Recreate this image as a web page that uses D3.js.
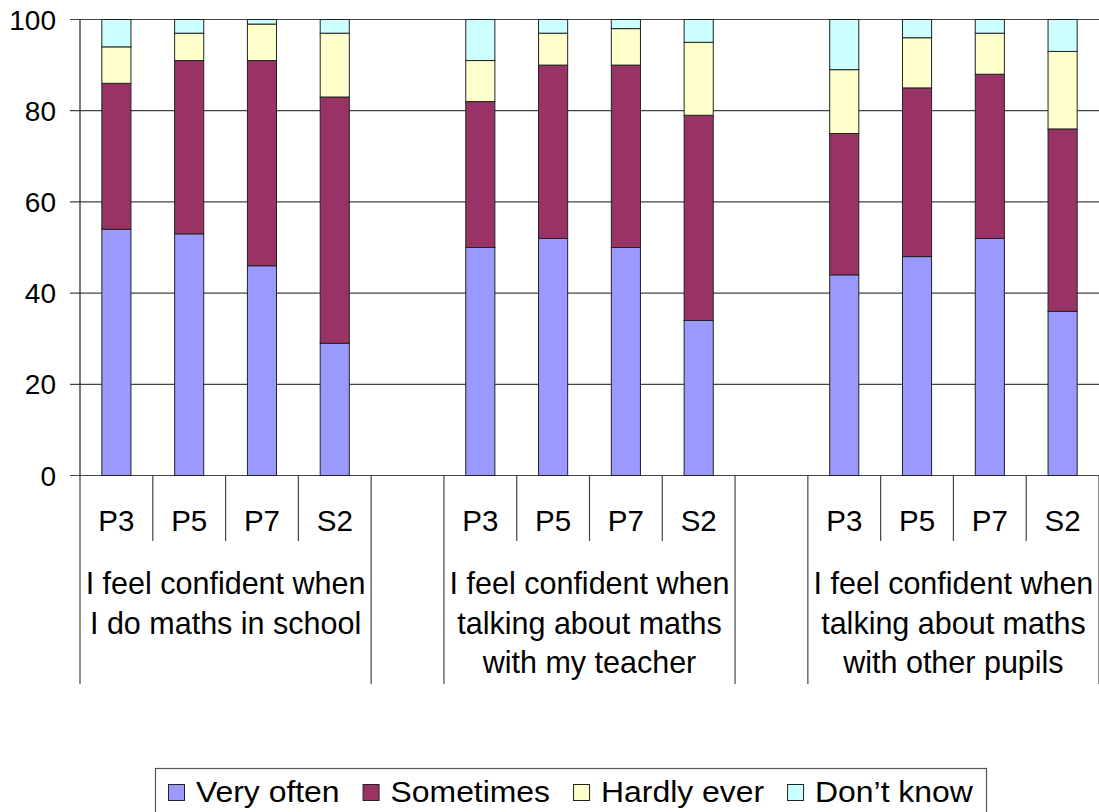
<!DOCTYPE html>
<html>
<head>
<meta charset="utf-8">
<script src="https://cdn.jsdelivr.net/npm/d3@7/dist/d3.min.js"></script>
<style>
  html, body { margin: 0; padding: 0; background: #fff; }
  svg { display: block; font-family: "Liberation Sans", Arial, Helvetica, sans-serif; }
</style>
</head>
<body>
<svg id="chart" width="1099" height="812"></svg>
<script>
// ---- data ----
const groups = [
  ["I feel confident when", "I do maths in school"],
  ["I feel confident when", "talking about maths", "with my teacher"],
  ["I feel confident when", "talking about maths", "with other pupils"]
];
const categories = ["P3", "P5", "P7", "S2"];
const seriesNames = ["Very often", "Sometimes", "Hardly ever", "Don\u2019t know"];
const veryOften  = [54, 53, 46, 29,  50, 52, 50, 34,  44, 48, 52, 36];
const sometimes  = [32, 38, 45, 54,  32, 38, 40, 45,  31, 37, 36, 40];
const hardlyEver = [ 8,  6,  8, 14,   9,  7,  8, 16,  14, 11,  9, 17];
const dontKnow   = [ 6,  3,  1,  3,   9,  3,  2,  5,  11,  4,  3,  7];
const yTicks = [0, 20, 40, 60, 80, 100];
const colors = ["#9999FF", "#993366", "#FFFFCC", "#CCFFFF"];

(function () {
// ---- layout ----
const svg = d3.select("#chart");
const plotLeft = 80, plotRight = 1099, plotTop = 19.5, plotBottom = 475.5;

// slots: 4 categories per group, one empty slot between groups
const slots = [];
groups.forEach((g, gi) => {
  categories.forEach(c => slots.push({ id: `g${gi}-${c}`, group: gi, cat: c }));
  if (gi < groups.length - 1) slots.push({ id: `gap${gi}`, group: null, cat: null });
});
const x = d3.scaleBand().domain(slots.map(s => s.id)).range([plotLeft, plotRight])
  .paddingInner(0.6).paddingOuter(0.3);
const step = x.step();
const slotLeft = id => x(id) - 0.3 * step;

const y = d3.scaleLinear().domain([0, 100]).range([plotBottom, plotTop]);

// gridlines
svg.append("g").selectAll("line").data(yTicks).join("line")
  .attr("x1", plotLeft - 10).attr("x2", plotRight)
  .attr("y1", d => y(d)).attr("y2", d => y(d))
  .attr("stroke", "#444").attr("stroke-width", 1.2);

// y tick labels
svg.append("g").selectAll("text").data(yTicks).join("text")
  .attr("x", 56).attr("y", d => y(d))
  .attr("dy", "0.36em")
  .attr("text-anchor", "end")
  .attr("font-size", 28)
  .attr("fill", "#000")
  .text(d => d);

// stacked bars
const barSlots = slots.filter(s => s.cat !== null);
const rows = barSlots.map((s, i) => ({
  id: s.id, v0: veryOften[i], v1: sometimes[i], v2: hardlyEver[i], v3: dontKnow[i]
}));
const stacked = d3.stack().keys(["v0", "v1", "v2", "v3"])(rows);
svg.append("g").selectAll("g").data(stacked).join("g")
  .attr("fill", (d, i) => colors[i])
  .selectAll("rect").data(d => d).join("rect")
  .attr("x", d => x(d.data.id))
  .attr("width", x.bandwidth())
  .attr("y", d => y(d[1]))
  .attr("height", d => y(d[0]) - y(d[1]))
  .attr("stroke", "#222").attr("stroke-width", 1);

// y axis line
svg.append("line").attr("x1", plotLeft).attr("x2", plotLeft)
  .attr("y1", plotTop).attr("y2", plotBottom)
  .attr("stroke", "#222").attr("stroke-width", 1.2);

// category divider lines
const longY = 684, shortY = 541;
const boundaries = [];
for (let k = 0; k <= slots.length; k++) {
  const prev = slots[k - 1], next = slots[k];
  const isLong = !prev || !next || prev.group !== next.group;
  boundaries.push({ x: plotLeft + k * step, long: isLong });
}
svg.append("g").selectAll("line").data(boundaries).join("line")
  .attr("x1", d => d.x).attr("x2", d => d.x)
  .attr("y1", plotBottom).attr("y2", d => d.long ? longY : shortY)
  .attr("stroke", "#444").attr("stroke-width", 1.2);

// category labels
svg.append("g").selectAll("text").data(barSlots).join("text")
  .attr("x", d => x(d.id) + x.bandwidth() / 2)
  .attr("y", 531)
  .attr("text-anchor", "middle")
  .attr("font-size", 29.5)
  .attr("fill", "#000")
  .text(d => d.cat);

// group labels
groups.forEach((lines, gi) => {
  const ids = slots.filter(s => s.group === gi).map(s => s.id);
  const x0 = slotLeft(ids[0]);
  const x1 = slotLeft(ids[ids.length - 1]) + step;
  const t = svg.append("text")
    .attr("x", (x0 + x1) / 2).attr("y", 594)
    .attr("text-anchor", "middle").attr("font-size", 30.5).attr("fill", "#000");
  lines.forEach((ln, li) => {
    t.append("tspan").attr("x", (x0 + x1) / 2).attr("y", 594 + li * 39.5).text(ln);
  });
});

// legend
const legend = svg.append("g");
legend.append("rect")
  .attr("x", 155.5).attr("y", 768.5).attr("width", 831).attr("height", 60)
  .attr("fill", "#fff").attr("stroke", "#555").attr("stroke-width", 1.2);
const stretch = 1.1;
let lx = 168;
seriesNames.forEach((name, i) => {
  legend.append("rect")
    .attr("x", lx + 0.5).attr("y", 784.5).attr("width", 16).attr("height", 16)
    .attr("fill", colors[i]).attr("stroke", "#222").attr("stroke-width", 1);
  const t = legend.append("text")
    .attr("transform", `translate(${lx + 28},801.5) scale(${stretch},1)`)
    .attr("font-size", 29).attr("fill", "#000")
    .text(name);
  const w = t.node().getComputedTextLength() * stretch;
  lx = lx + 28 + w + 23;
});
})();
</script>
</body>
</html>
